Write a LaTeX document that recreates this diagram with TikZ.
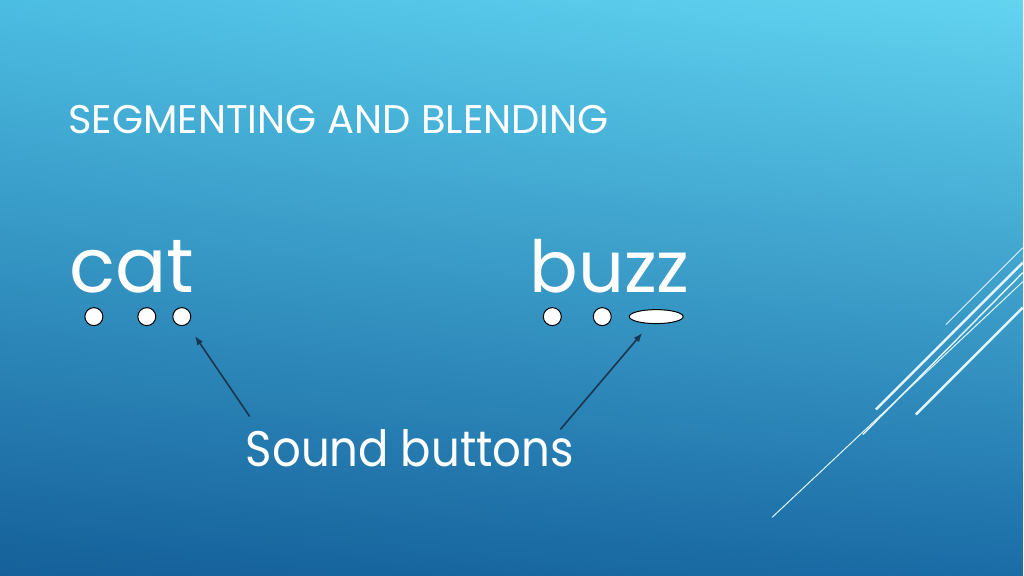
\documentclass[tikz,border=0pt]{standalone}
\usepackage{fontspec}
\setmainfont{Poppins}
\newfontfamily\narrowfont{Poppins}[FakeStretch=0.9]
\usetikzlibrary{arrows.meta,shapes.geometric,shadings}
\definecolor{bgul}{HTML}{4CBDE2}
\definecolor{bgur}{HTML}{62D4F0}
\definecolor{bgll}{HTML}{15609A}
\definecolor{bglr}{HTML}{1A6CA6}
\definecolor{deco}{HTML}{E2F5FB}
\definecolor{arr}{HTML}{1B3550}

\begin{document}
\begin{tikzpicture}[x=1pt,y=-1pt,
  word/.style={anchor=base west,text=white,inner sep=0pt},
  dot/.style={circle,draw=black,fill=white,line width=1pt,minimum size=18pt,inner sep=0pt},
  longdot/.style={ellipse,draw=black,fill=white,line width=1pt,minimum width=54pt,minimum height=14pt,inner sep=0pt},
  pointer/.style={draw=arr,line width=1.6pt,-{Latex[length=9pt,width=7pt]}}]
  \shade[upper left=bgul,upper right=bgur,lower left=bgll,lower right=bglr] (0,0) rectangle (1024,576);

  \draw[deco,line width=1pt] (947,325) -- (1024,248);
  \draw[deco,line width=2.5pt] (877,410) -- (1024,263);
  \draw[deco,line width=1.4pt] (864,435) -- (1024,273);
  \draw[deco,line width=1pt] (773,518) -- (1024,282);
  \draw[deco,line width=2.5pt] (917,415) -- (1024,308);

  \node[word,font=\fontsize{40}{44}\selectfont] (title) at (68,134) {SEGMENTING AND BLENDING};
  \node[word,font=\fontsize{76}{80}\selectfont] (cat) at (69,293) {cat};
  \node[word,font=\fontsize{72}{80}\selectfont] (buzz) at (530,293) {buzz};
  \node[word,font=\narrowfont\fontsize{50}{56}\selectfont] (sb) at (246,467) {Sound buttons};

  \node[dot] (c1) at (94,317) {};
  \node[dot] (c2) at (147,317) {};
  \node[dot] (c3) at (182,317) {};
  \node[dot] (b1) at (553,317) {};
  \node[dot] (b2) at (603,317) {};
  \node[longdot] (b3) at (657,317) {};

  \coordinate (l1) at (250,417);
  \coordinate (l2) at (561,430);
  \draw[pointer,shorten >=14pt] (l1) -- (c3);
  \draw[pointer,shorten >=12pt] (l2) -- (b3);
\end{tikzpicture}
\end{document}
